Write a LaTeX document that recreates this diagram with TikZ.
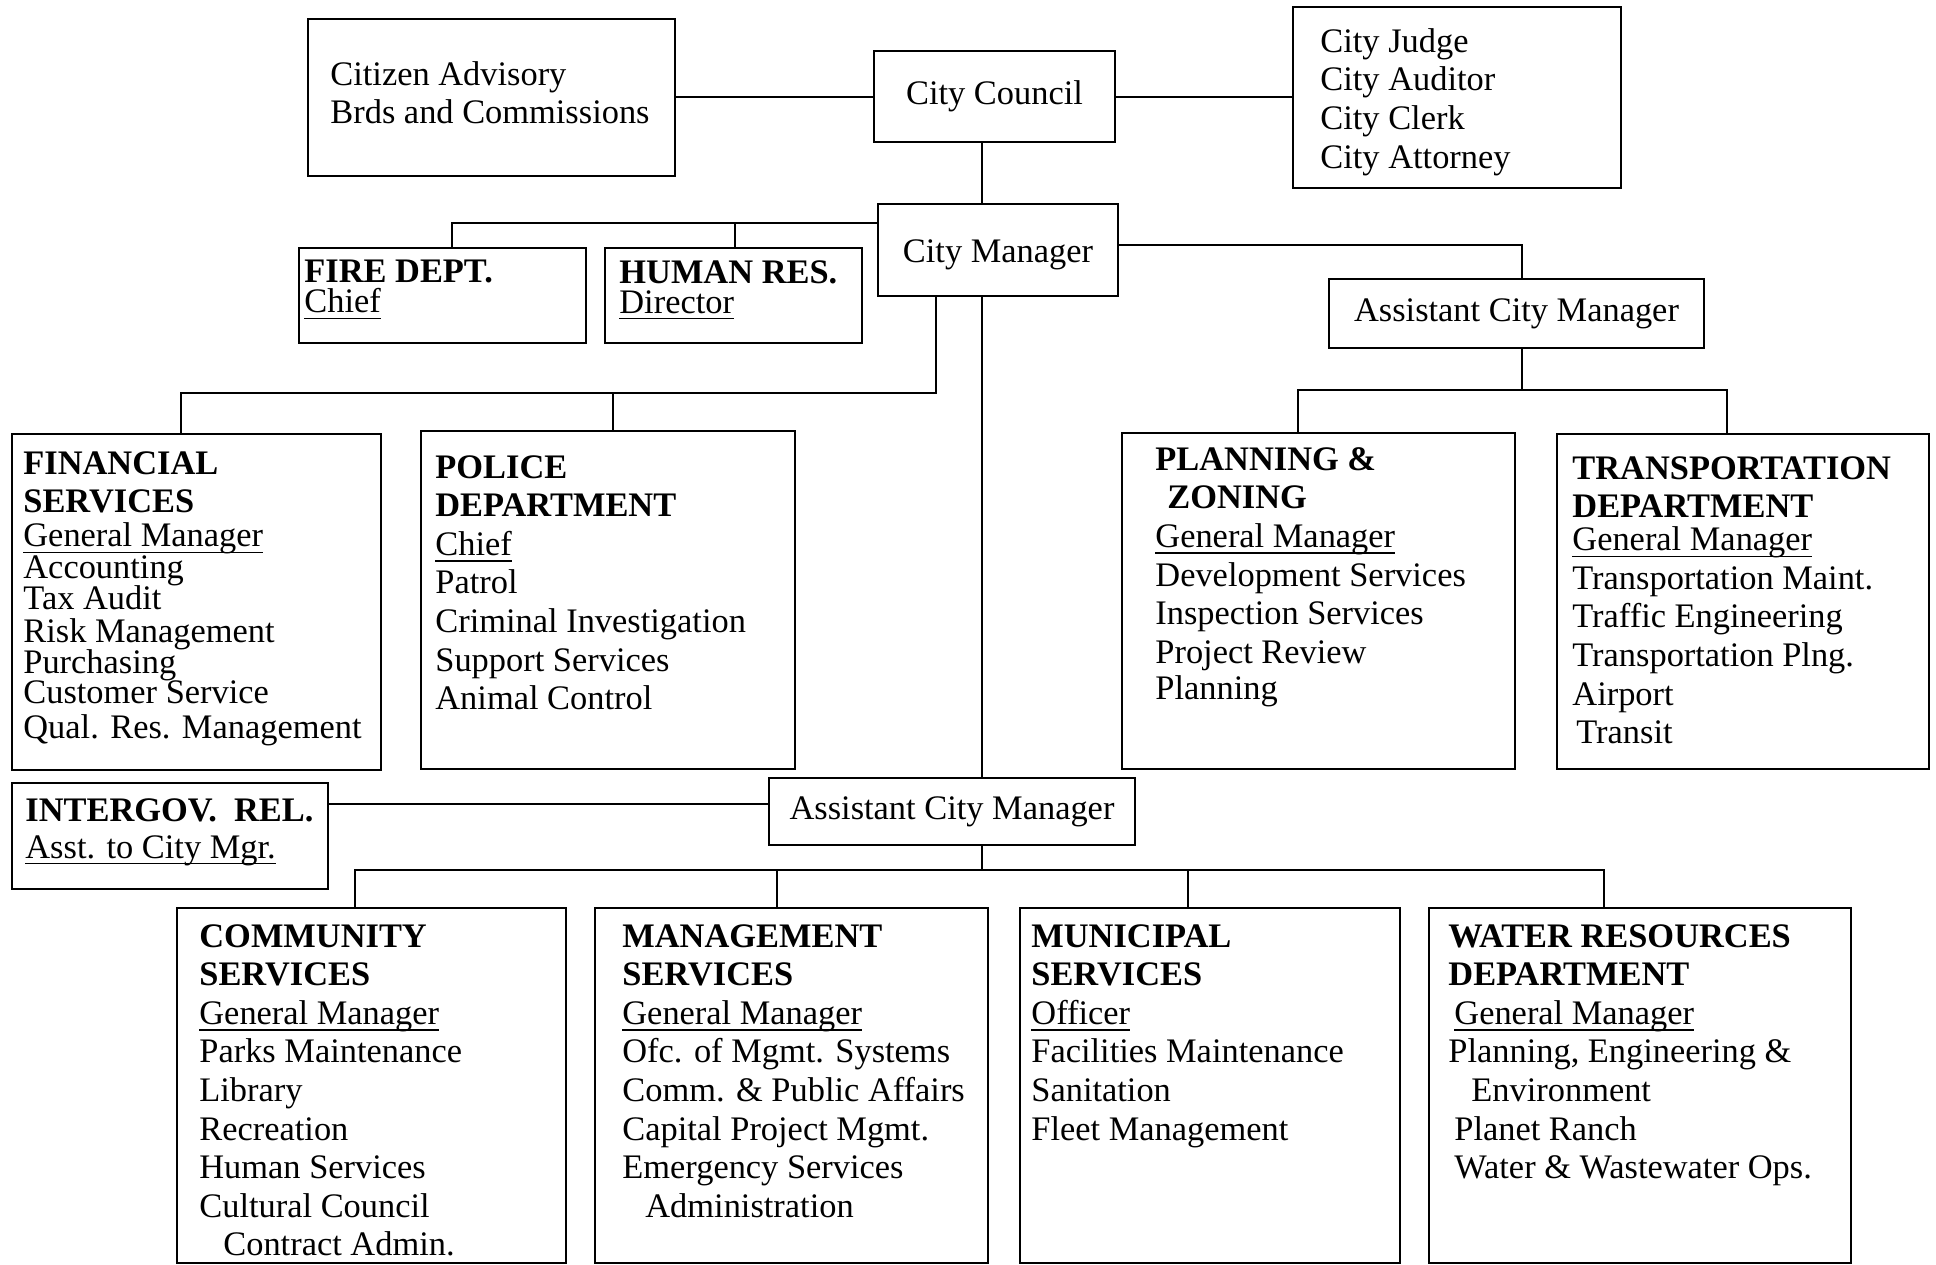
\documentclass[tikz,border=0pt]{standalone}
\usepackage{fontspec}
\setmainfont{Liberation Serif}
\usepackage{tikz}
\newcommand{\uln}[1]{\setbox0\hbox{#1}\rlap{\vrule height -2.4pt depth 3.1pt width \wd0}\box0}

\begin{document}
\begin{tikzpicture}[x=0.5pt,y=-0.5pt,line cap=rect,line join=miter,
  box/.style={draw,line width=1.2pt,inner sep=0pt,anchor=north west},
  txt/.style={anchor=north west,align=left,inner sep=0pt,font=\fontsize{17.2}{19.3}\selectfont,execute at begin node=\strut},
  link/.style={line width=1pt}]
\useasboundingbox (0,0) rectangle (1936,1264);

% top row
\node[box,minimum width=183.5pt,minimum height=78.5pt] (citizen) at (307,18) {};
\node[box,anchor=center,minimum width=120.5pt,minimum height=45.5pt,font=\fontsize{17.2}{19.3}\selectfont] (council) at (994.5,96.5) {City Council};
\node[box,minimum width=164pt,minimum height=90.5pt] (judge) at (1292,6) {};
\node[box,anchor=center,minimum width=120pt,minimum height=46pt,font=\fontsize{17.2}{19.3}\selectfont] (manager) at (998,250) {\raisebox{-2.5pt}[\height][\depth]{City Manager}};
\node[box,minimum width=143.5pt,minimum height=47.5pt] (fire) at (298,247) {};
\node[box,minimum width=128.5pt,minimum height=47.5pt] (hr) at (604,247) {};
\node[box,anchor=center,minimum width=187.5pt,minimum height=34.5pt,font=\fontsize{17.2}{19.3}\selectfont] (acmA) at (1516.5,313.5) {Assistant City Manager};

% middle row
\node[box,minimum width=184.5pt,minimum height=168pt] (fin) at (11,433) {};
\node[box,minimum width=187pt,minimum height=169pt] (police) at (420,430) {};
\node[box,minimum width=196.5pt,minimum height=168pt] (planning) at (1121,432) {};
\node[box,minimum width=186pt,minimum height=167.5pt] (transp) at (1556,433) {};
\node[box,minimum width=158pt,minimum height=53pt] (intergov) at (11,782) {};
\node[box,anchor=center,minimum width=183pt,minimum height=33.5pt,font=\fontsize{17.2}{19.3}\selectfont] (acmB) at (952,811.5) {Assistant City Manager};

% bottom row
\node[box,minimum width=194.5pt,minimum height=177.5pt] (comm) at (176,907) {};
\node[box,minimum width=196.5pt,minimum height=177.5pt] (mgmt) at (594,907) {};
\node[box,minimum width=190pt,minimum height=177.5pt] (muni) at (1019,907) {};
\node[box,minimum width=211pt,minimum height=177.5pt] (water) at (1428,907) {};

% texts
\node[txt] (citizenT) at (330,61) {Citizen Advisory\\Brds and Commissions};
\node[txt] (judgeT) at (1320,28) {City Judge\\City Auditor\\City Clerk\\City Attorney};
\node[txt] (fireT) at (304,260) {\textbf{FIRE DEPT.}\\[-4.3pt]\uln{Chief}};
\node[txt] (hrT) at (619,260) {\textbf{HUMAN RES.}\\[-4.3pt]\uln{Director}};
\node[txt] (finT) at (23,451) {\textbf{FINANCIAL}\\\textbf{SERVICES}\\[-2.2pt]\uln{General Manager}\\[-3.7pt]Accounting\\[-3.7pt]Tax Audit\\[-2.8pt]Risk Management\\[-3.7pt]Purchasing\\[-4.4pt]Customer Service\\[-1.6pt]Qual. Res. Management};
\node[txt] (policeT) at (435,455) {\textbf{POLICE}\\\textbf{DEPARTMENT}\\\uln{Chief}\\Patrol\\Criminal Investigation\\Support Services\\Animal Control};
\node[txt] (planningT) at (1155,447) {\textbf{PLANNING \&}\\\hspace*{6pt}\textbf{ZONING}\\\uln{General Manager}\\Development Services\\Inspection Services\\Project Review\\[-1pt]Planning};
\node[txt] (transpT) at (1572,456) {\textbf{TRANSPORTATION}\\\textbf{DEPARTMENT}\\[-2.8pt]\uln{General Manager}\\Transportation Maint.\\Traffic Engineering\\Transportation Plng.\\Airport\\\hspace*{2pt}Transit};
\node[txt] (intergovT) at (25,798) {\textbf{INTERGOV.\ \ REL.}\\[-0.8pt]\uln{Asst. to City Mgr.}};
\node[txt] (commT) at (199,924) {\textbf{COMMUNITY}\\\textbf{SERVICES}\\\uln{General Manager}\\Parks Maintenance\\Library\\Recreation\\Human Services\\Cultural Council\\\hspace*{12pt}Contract Admin.};
\node[txt] (mgmtT) at (622,924) {\textbf{MANAGEMENT}\\\textbf{SERVICES}\\\uln{General Manager}\\Ofc. of Mgmt. Systems\\Comm. \& Public Affairs\\Capital Project Mgmt.\\Emergency Services\\\hspace*{11.5pt}Administration};
\node[txt] (muniT) at (1031,924) {\textbf{MUNICIPAL}\\\textbf{SERVICES}\\\uln{Officer}\\Facilities Maintenance\\Sanitation\\Fleet Management};
\node[txt] (waterT) at (1448,924) {\textbf{WATER RESOURCES}\\\textbf{DEPARTMENT}\\\hspace*{3pt}\uln{General Manager}\\Planning, Engineering \&\\\hspace*{11.5pt}Environment\\\hspace*{3pt}Planet Ranch\\\hspace*{3pt}Water \& Wastewater Ops.};

% bus points
\coordinate (trunk) at (982,870);
\coordinate (dfire) at (452,223);
\coordinate (dhr) at (735,223);
\coordinate (mgrleg) at (936,393);
\coordinate (dfin) at (181,393);
\coordinate (dpol) at (613,393);
\coordinate (dacm) at (1522,245);
\coordinate (dplan) at (1298,390);
\coordinate (dtrans) at (1727,390);
\coordinate (ig) at (0,804);
\coordinate (dcomm) at (355,870);
\coordinate (dmgmt) at (777,870);
\coordinate (dmuni) at (1188,870);
\coordinate (dwater) at (1604,870);

% connectors
\draw[link] (council.west) -- (council.west -| citizen.east);
\draw[link] (council.east) -- (council.east -| judge.west);
\draw[link] (council.south -| trunk) -- (manager.north -| trunk);
\draw[link] (manager.south -| trunk) -- (acmB.north -| trunk);
\draw[link] (acmB.south -| trunk) -- (trunk);
\draw[link] (manager.west |- dfire) -- (dfire) -- (dfire |- fire.north);
\draw[link] (dhr) -- (dhr |- hr.north);
\draw[link] (manager.south -| mgrleg) -- (mgrleg) -- (dfin) -- (dfin |- fin.north);
\draw[link] (dpol) -- (dpol |- police.north);
\draw[link] (manager.east |- dacm) -- (dacm) -- (dacm |- acmA.north);
\draw[link] (acmA.south -| dacm) -- (dacm |- dplan);
\draw[link] (dplan |- planning.north) -- (dplan) -- (dtrans) -- (dtrans |- transp.north);
\draw[link] (intergov.east |- ig) -- (acmB.west |- ig);
\draw[link] (dcomm) -- (dwater);
\foreach \d/\b in {dcomm/comm,dmgmt/mgmt,dmuni/muni,dwater/water}
  \draw[link] (\d) -- (\d |- \b.north);
\end{tikzpicture}
\end{document}
